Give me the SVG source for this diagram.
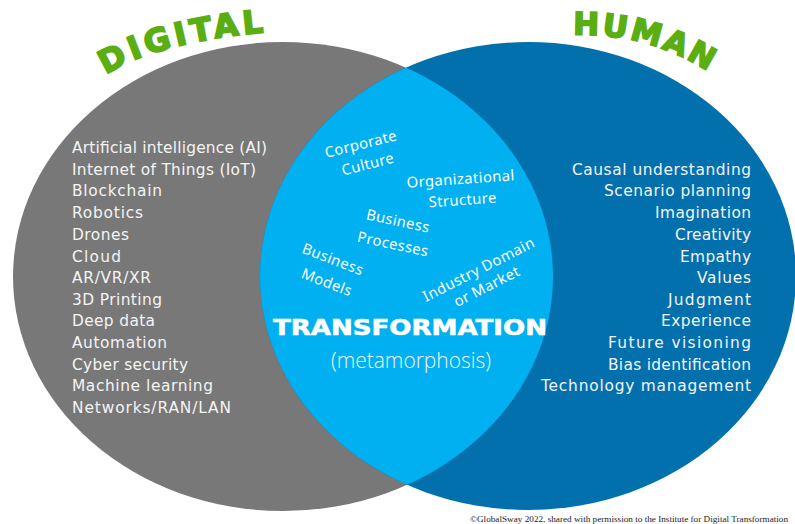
<svg xmlns="http://www.w3.org/2000/svg" width="795" height="524" viewBox="0 0 795 524">
<defs>
<style>
.list{font-family:"DejaVu Sans","Noto Sans",sans-serif;font-size:15.4px;fill:#f4f4f4}
.mid{font-family:"Noto Sans","Open Sans",sans-serif;font-size:14.8px;fill:#ffffff;text-anchor:middle;letter-spacing:0.4px}
.title{font-family:"DejaVu Sans",sans-serif;font-weight:bold;font-size:32px;fill:#5aae12;stroke:#5aae12;stroke-width:1.8px;letter-spacing:4px}
</style>
<clipPath id="grayClip"><ellipse cx="283" cy="276.5" rx="270" ry="234.5"/></clipPath>
<path id="arcDigital" d="M 106,75 Q 162,38 295,30"/>
<path id="arcHuman" d="M 573,35 Q 660,32 732,88"/>
</defs>
<rect width="795" height="524" fill="#ffffff"/>
<g id="digital">
<ellipse cx="283" cy="276.5" rx="270" ry="234.5" fill="#787878"/>
</g>
<g id="human">
<ellipse cx="528" cy="276" rx="268" ry="234" fill="#0270ad"/>
</g>
<g id="transformation">
<ellipse cx="528" cy="276" rx="268" ry="234" fill="#00b0f0" clip-path="url(#grayClip)"/>
</g>
<g id="digital-title"><text class="title"><textPath href="#arcDigital">DIGITAL</textPath></text></g>
<g id="human-title"><text class="title" style="font-size:31px;letter-spacing:2.5px"><textPath href="#arcHuman">HUMAN</textPath></text></g>
<g id="digital-items" class="list">
<text x="72" y="153" textLength="195">Artificial intelligence (AI)</text>
<text x="72" y="175" textLength="184">Internet of Things (IoT)</text>
<text x="72" y="196" textLength="90">Blockchain</text>
<text x="72" y="218" textLength="71">Robotics</text>
<text x="72" y="240" textLength="57">Drones</text>
<text x="72" y="262" textLength="49">Cloud</text>
<text x="72" y="283" textLength="79">AR/VR/XR</text>
<text x="72" y="305" textLength="90">3D Printing</text>
<text x="72" y="326" textLength="83">Deep data</text>
<text x="72" y="348" textLength="95">Automation</text>
<text x="72" y="370" textLength="116">Cyber security</text>
<text x="72" y="391" textLength="141">Machine learning</text>
<text x="72" y="413" textLength="159">Networks/RAN/LAN</text>
</g>
<g id="human-items" class="list" text-anchor="end">
<text x="751" y="175" textLength="179">Causal understanding</text>
<text x="751" y="196" textLength="147">Scenario planning</text>
<text x="751" y="218" textLength="96">Imagination</text>
<text x="751" y="240" textLength="76">Creativity</text>
<text x="751" y="262" textLength="71">Empathy</text>
<text x="751" y="283" textLength="54">Values</text>
<text x="751" y="305" textLength="83">Judgment</text>
<text x="751" y="326" textLength="90">Experience</text>
<text x="751" y="348" textLength="143">Future visioning</text>
<text x="751" y="370" textLength="143">Bias identification</text>
<text x="751" y="391" textLength="210">Technology management</text>
</g>
<g id="corporate-culture" class="mid">
<text transform="translate(362,149) rotate(-14)">Corporate</text>
<text transform="translate(369,169) rotate(-14)">Culture</text>
</g>
<g id="organizational-structure" class="mid">
<text transform="translate(461,184) rotate(-4)">Organizational</text>
<text transform="translate(463,205) rotate(-4)">Structure</text>
</g>
<g id="business-processes" class="mid">
<text transform="translate(397,226) rotate(12)">Business</text>
<text transform="translate(392,249) rotate(12)">Processes</text>
</g>
<g id="business-models" class="mid">
<text transform="translate(331,264) rotate(21)">Business</text>
<text transform="translate(325,287) rotate(21)">Models</text>
</g>
<g id="industry-domain" class="mid">
<text transform="translate(481,274) rotate(-27)">Industry Domain</text>
<text transform="translate(489,291) rotate(-27)">or Market</text>
</g>
<g id="center-title">
<text x="410" y="335" text-anchor="middle" font-family="'DejaVu Sans',sans-serif" font-weight="bold" font-size="21.5" fill="#ffffff" stroke="#ffffff" stroke-width="0.6" textLength="274" lengthAdjust="spacingAndGlyphs">TRANSFORMATION</text>
<text x="411" y="368" text-anchor="middle" font-family="'Open Sans',sans-serif" font-weight="300" font-size="22" fill="#f4f4f4" textLength="160" lengthAdjust="spacingAndGlyphs">(metamorphosis)</text>
</g>
<text x="470" y="522" font-family="'Liberation Serif',serif" font-size="9.2" fill="#222222">©GlobalSway 2022, shared with permission to the Institute for Digital Transformation</text>
</svg>
